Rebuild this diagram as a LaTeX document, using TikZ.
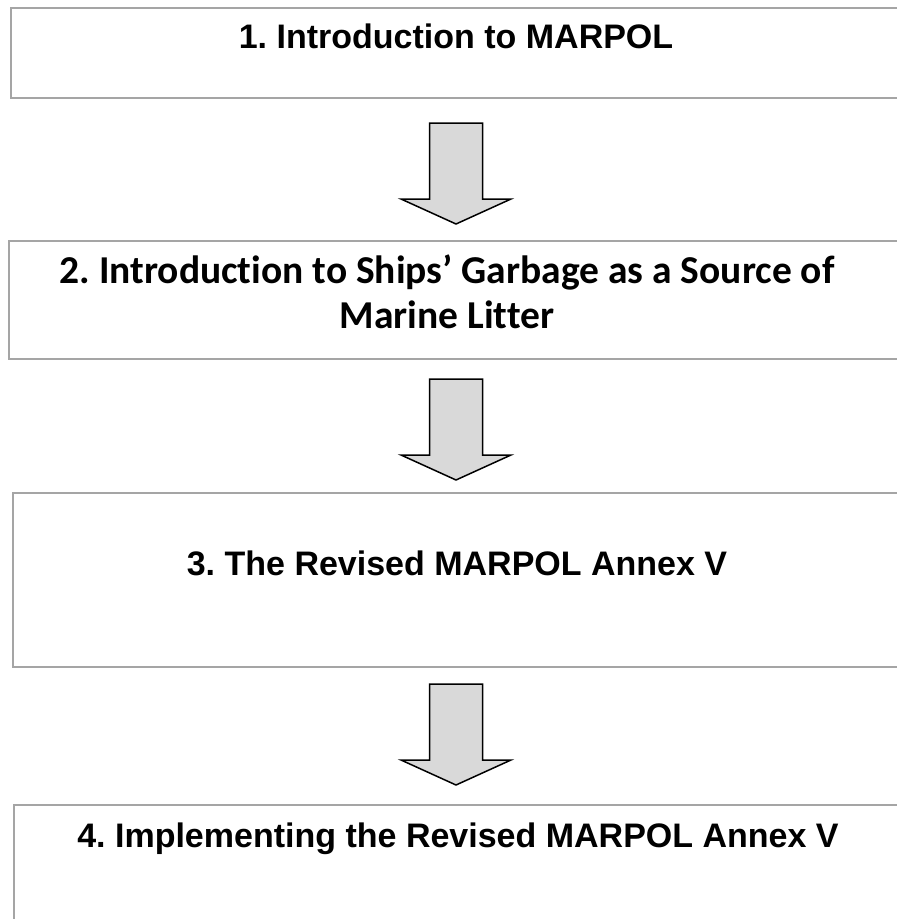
\documentclass[tikz,border=0pt]{standalone}
\usepackage{fontspec}
\setmainfont{Liberation Sans}
\newfontfamily\calibrifont[Ligatures={TeX,NoCommon}]{Carlito}
\frenchspacing

\definecolor{boxgray}{RGB}{165,165,165}
\definecolor{arrowgray}{RGB}{217,217,217}

\tikzset{
  stage/.style={draw=boxgray, line width=2pt, anchor=north west, minimum width=900pt, inner sep=0pt},
  title/.style={font=\fontsize{34}{40}\selectfont\bfseries, anchor=base, inner sep=0pt},
  bigarrow/.style={draw=black, fill=arrowgray, line width=1.5pt, line join=miter}
}

\begin{document}
\begin{tikzpicture}[x=1pt,y=-1pt]
	\useasboundingbox (0,0) rectangle (897,919);
	\clip (0,0) rectangle (897,919);
	% the four stages
	\node[stage, minimum height=90pt]  (box1) at (10,7)   {};
	\node[stage, minimum height=118pt] (box2) at (8,240)  {};
	\node[stage, minimum height=174pt] (box3) at (12,492) {};
	\node[stage, minimum height=140pt] (box4) at (13,804) {};
	\node[title] (t1) at (456,48)  {1. Introduction to MARPOL};
	\node[title, font=\calibrifont\fontsize{39.5}{45}\selectfont\bfseries, align=center]
		(t2) at (447,328) {2. Introduction to Ships' Garbage as a Source of\\Marine Litter};
	\node[title] (t3) at (457,575) {3. The Revised MARPOL Annex V};
	\node[title] (t4) at (458,847) {4. Implementing the Revised MARPOL Annex V};
	% block arrows
	\coordinate (a1) at (456,123);
	\coordinate (a2) at (456,379);
	\coordinate (a3) at (456,684);
	\foreach \a in {a1,a2,a3}
		\draw[bigarrow] (\a) ++(-26.5,0) -- ++(53,0) -- ++(0,76) -- ++(28.5,0)
			-- ++(-55,25) -- ++(-55,-25) -- ++(28.5,0) -- cycle;
\end{tikzpicture}
\end{document}
